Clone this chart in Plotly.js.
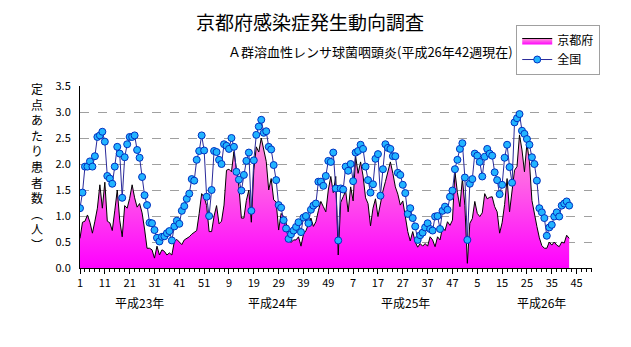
<!DOCTYPE html>
<html>
<head>
<meta charset="utf-8">
<script src="https://cdn.plot.ly/plotly-3.0.1.min.js"></script>
<style>html,body{margin:0;padding:0;background:#fff;}#chart{width:631px;height:347px;}</style>
</head>
<body>
<div id="chart"></div>
<script>
// Weekly values, 平成23年第1週 (index 0) to 平成26年第42週 (index 197)
const kyoto = [
  0.57,0.88,0.90,1.02,0.88,0.67,0.90,1.15,1.60,1.15,1.65,0.90,0.87,0.72,1.10,1.50,0.92,0.60,1.20,1.15,
  1.34,1.60,1.35,1.17,1.24,1.06,0.75,0.38,0.38,0.35,0.19,0.42,0.25,0.35,0.32,0.25,0.29,0.25,0.51,0.55,
  0.50,0.45,0.54,0.57,0.60,0.65,0.68,0.72,1.05,1.43,1.36,1.20,
  0.70,0.70,1.00,1.20,0.85,0.90,1.21,1.88,1.90,1.85,2.24,1.88,1.56,0.96,0.96,1.30,1.50,0.88,1.88,2.33,
  2.23,2.50,2.30,2.05,1.50,1.72,1.31,1.27,0.73,1.05,0.99,0.86,0.73,0.49,0.54,0.54,0.60,0.42,0.65,0.72,
  0.83,0.96,0.80,0.89,1.10,1.28,1.18,1.08,1.50,1.76,1.45,1.76,
  0.25,1.26,1.37,1.48,1.08,1.56,1.29,2.15,1.82,2.04,1.77,1.35,1.24,0.81,1.15,1.33,0.99,1.26,1.48,1.66,
  1.87,2.04,1.82,1.56,1.42,1.21,1.29,0.99,0.70,0.52,0.70,0.50,0.40,0.47,0.42,0.47,0.42,0.60,0.54,0.41,
  0.60,0.54,0.78,0.72,0.89,0.82,0.92,1.85,1.45,1.18,1.72,1.20,
  0.09,0.86,0.95,1.28,1.05,0.99,1.06,1.43,1.33,1.36,1.37,1.18,1.08,0.67,0.87,1.22,1.72,1.08,1.43,1.88,
  1.95,2.56,2.27,1.85,2.40,2.04,1.30,1.02,0.80,0.58,0.43,0.38,0.38,0.50,0.44,0.50,0.44,0.41,0.50,0.48,
  0.63,0.57
];
const national = [
  1.15,1.45,1.95,1.95,2.05,1.95,2.15,2.52,2.55,2.62,2.43,1.77,1.72,1.62,1.95,2.33,2.20,1.35,2.13,2.38,
  2.52,2.52,2.55,2.27,2.12,1.75,1.40,1.21,0.87,0.86,0.73,0.58,0.51,0.60,0.61,0.67,0.71,0.53,0.80,0.91,
  0.85,1.10,1.19,1.33,1.43,1.71,1.68,2.08,2.25,2.55,2.26,1.37,
  1.00,1.50,2.25,2.23,2.08,2.00,2.38,2.35,2.29,2.50,2.33,1.85,1.70,1.49,1.79,2.06,2.22,1.10,2.07,2.56,
  2.72,2.85,2.60,2.63,2.33,2.28,1.98,1.69,1.21,1.16,0.92,0.76,0.56,0.65,0.72,0.79,0.88,0.69,0.97,1.00,
  0.86,1.12,1.20,1.24,1.66,1.66,1.58,1.77,2.06,2.04,2.22,1.53,
  0.53,1.53,1.51,1.95,1.87,2.00,1.67,2.22,2.25,2.37,2.29,1.95,1.69,1.45,1.61,2.10,2.19,1.39,1.90,2.38,
  2.31,2.29,2.15,2.15,1.83,1.79,1.60,1.44,1.04,1.15,0.96,0.80,0.54,0.63,0.68,0.78,0.86,0.75,0.72,0.99,
  1.00,0.75,1.10,1.18,1.12,1.37,1.49,1.90,2.08,2.29,2.40,1.74,
  0.54,1.62,1.71,2.20,2.16,2.04,1.76,2.14,2.29,2.20,2.16,1.84,1.69,1.42,1.60,2.12,2.37,1.94,1.64,2.80,
  2.88,2.96,2.64,2.58,2.48,2.37,2.13,2.00,1.68,1.15,1.07,0.96,0.62,0.78,0.83,0.99,1.07,0.99,1.20,1.24,
  1.28,1.20
];
const tickWeeks = ['1','11','21','31','41','51','9','19','29','39','49','7','17','27','37','47','5','15','25','35','45'];
const yearLabels = ['平成23年','平成24年','平成25年','平成26年'];
const seriesNames = ['京都府','全国'];
const chartTitle = '京都府感染症発生動向調査';
const chartSubtitle = 'Ａ群溶血性レンサ球菌咽頭炎(平成26年42週現在)';
const yTitle = '定点あたり患者数︵人︶';

const idx = kyoto.map((_, i) => i);
const tickPos = tickWeeks.map((_, k) => k * 10);
const yearPos = [24, 77.5, 131, 186];
const FONT = '"Noto Sans CJK JP", "Noto Sans", sans-serif';

const traces = [
  {
    x: idx, y: kyoto, name: seriesNames[0], type: 'scatter', mode: 'lines',
    fill: 'tozeroy',
    fillgradient: {type: 'vertical', start: 0, stop: 2.6, colorscale: [[0, '#ff00ff'], [1, '#ff9ad8']]},
    line: {color: '#000000', width: 1}
  },
  {
    x: idx, y: national, name: seriesNames[1], type: 'scatter', mode: 'lines+markers',
    line: {color: '#2a2a9a', width: 1},
    marker: {symbol: 'circle', size: 7, color: '#22b4ff', line: {color: '#0030c0', width: 1}}
  }
];

const annotations = [
  {text: chartTitle, xref: 'paper', yref: 'paper', x: 0.449, y: 1.352, xanchor: 'center', yanchor: 'middle',
   showarrow: false, font: {family: FONT, size: 19, color: '#000'}},
  {text: chartSubtitle, xref: 'paper', yref: 'paper', x: 0.850, y: 1.187, xanchor: 'right', yanchor: 'middle',
   showarrow: false, font: {family: FONT, size: 13, color: '#000'}},
  {text: yTitle.split('').join('<br>'), xref: 'paper', yref: 'paper', x: -0.084, y: 0.558, xanchor: 'center', yanchor: 'middle',
   showarrow: false, font: {family: FONT, size: 12, color: '#000'}}
];
yearLabels.forEach((t, k) => annotations.push({
  text: t, xref: 'x', yref: 'paper', x: yearPos[k], y: -0.187, xanchor: 'center', yanchor: 'middle',
  showarrow: false, font: {family: FONT, size: 12, color: '#000'}
}));

const layout = {
  width: 631, height: 347,
  margin: {l: 80, r: 39, t: 86, b: 79, pad: 0},
  paper_bgcolor: '#ffffff', plot_bgcolor: '#ffffff',
  font: {family: FONT, size: 11, color: '#000'},
  showlegend: true,
  legend: {x: 0.852, y: 1.335, xanchor: 'left', yanchor: 'top', bgcolor: '#ffffff',
           bordercolor: '#a0a0a0', borderwidth: 1, font: {family: FONT, size: 12, color: '#000'},
           tracegroupgap: 0, itemwidth: 30},
  xaxis: {
    range: [0, 206.2], showline: true, linecolor: '#000', linewidth: 1,
    tickmode: 'array', tickvals: tickPos, ticktext: tickWeeks,
    ticks: 'outside', ticklen: 5, tickcolor: '#000', tickwidth: 1,
    minor: {tickmode: 'linear', tick0: 0, dtick: 2, ticks: 'outside', ticklen: 3, tickcolor: '#000', showgrid: false},
    showgrid: false, zeroline: false, tickfont: {family: FONT, size: 11}, fixedrange: true
  },
  yaxis: {
    range: [0, 3.5], tick0: 0, dtick: 0.5, tickformat: '.1f',
    showline: true, linecolor: '#000', linewidth: 1, ticks: '',
    showgrid: true, gridcolor: '#a0a0a0', gridwidth: 1, griddash: 'dash',
    zeroline: false, ticklabelstandoff: 6, tickfont: {family: FONT, size: 11}, fixedrange: true
  },
  annotations: annotations
};

Plotly.newPlot('chart', traces, layout, {displayModeBar: false, staticPlot: true});
</script>
</body>
</html>
